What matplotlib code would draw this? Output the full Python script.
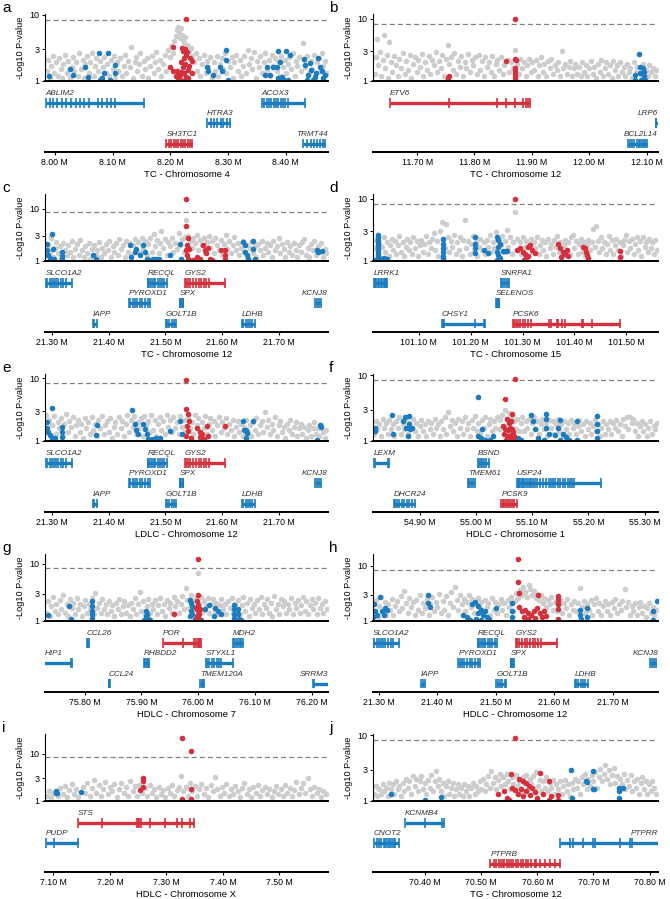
import numpy as np
import matplotlib
matplotlib.use("Agg")
import matplotlib.pyplot as plt
from matplotlib.ticker import NullLocator

plt.rcParams['font.family'] = ['Liberation Sans', 'DejaVu Sans']

GRAY = "#cdcdcd"
BLUE = "#1b7cc0"
RED = "#d5303b"
SIG = 8.4  # genome-wide line as drawn in the figure

# ---------------- panel a : TC chr4 ----------------
a_gray = [(7.986,1.4),(7.988,2.1),(7.991,1.1),(7.994,1.7),(7.997,2.4),(7.999,1.3),(8.002,1.9),(8.005,1.2),(8.007,2.2),(8.010,1.5),
          (8.013,1.1),(8.015,1.8),(8.018,2.5),(8.021,1.3),(8.023,2.0),(8.026,1.1),(8.029,1.6),(8.031,2.3),(8.034,1.4),(8.037,1.9),
          (8.040,1.2),(8.042,2.6),(8.045,1.5),(8.048,2.1),(8.050,1.1),(8.053,1.8),(8.056,2.4),(8.059,1.3),(8.061,1.9),(8.064,2.6),
          (8.067,1.2),(8.069,1.7),(8.072,2.2),(8.075,1.4),(8.078,2.0),(8.080,1.1),(8.083,1.6),(8.086,2.3),(8.089,1.3),(8.091,1.8),
          (8.094,1.2),(8.097,2.1),(8.100,1.5),(8.102,2.4),(8.105,1.1),(8.108,1.9),(8.110,1.4),(8.113,2.2),(8.116,1.2),(8.119,1.7),
          (8.121,2.5),(8.124,1.3),(8.127,2.0),(8.130,1.6),(8.132,3.3),(8.135,1.1),(8.138,1.9),(8.140,2.3),(8.143,1.4),(8.146,1.8),
          (8.148,2.6),(8.151,1.2),(8.154,2.0),(8.157,1.5),(8.160,2.2),(8.162,1.1),(8.165,1.7),(8.168,2.4),(8.171,1.3),(8.173,1.9),
          (8.176,2.7),(8.179,1.5),(8.182,2.1),(8.184,1.2),(8.187,1.8),(8.190,2.5),(8.193,1.4),(8.196,2.9),(8.199,2.3),(8.202,3.4),
          (8.205,2.6),(8.207,4.0),(8.210,4.8),(8.212,5.8),(8.213,6.6),(8.215,5.4),(8.217,4.5),(8.218,6.2),(8.220,5.0),(8.222,4.2),
          (8.224,3.7),(8.226,4.6),(8.229,3.5),(8.232,2.8),(8.235,3.1),(8.238,2.4),(8.241,1.9),(8.244,2.6),(8.247,1.4),(8.249,2.2),
          (8.252,1.2),(8.255,1.8),(8.258,2.5),(8.261,1.3),(8.263,2.0),(8.266,1.6),(8.269,2.3),(8.272,1.1),(8.275,1.9),(8.278,1.4),
          (8.280,2.4),(8.283,1.2),(8.286,1.8),(8.289,2.2),(8.292,1.5),(8.294,2.6),(8.297,1.3),(8.300,2.0),(8.303,1.6),(8.306,2.3),
          (8.308,1.1),(8.311,1.9),(8.314,2.5),(8.317,1.4),(8.320,2.1),(8.322,1.2),(8.325,1.7),(8.328,2.4),(8.331,1.3),(8.334,2.9),
          (8.336,1.8),(8.339,2.2),(8.342,1.5),(8.345,2.7),(8.348,1.1),(8.350,2.0),(8.353,1.6),(8.356,2.4),(8.359,1.3),(8.362,1.9),
          (8.364,2.6),(8.367,1.4),(8.370,2.1),(8.373,1.2),(8.376,2.5),(8.378,1.7),(8.381,2.2),(8.384,1.4),(8.387,2.0),(8.390,1.2),
          (8.392,2.4),(8.395,1.6),(8.398,2.1),(8.401,1.3),(8.404,1.8),(8.406,2.3),(8.409,1.5),(8.412,2.6),(8.415,1.2),(8.418,2.0),
          (8.420,1.7),(8.423,2.3),(8.426,1.4),(8.429,3.7),(8.432,2.1),(8.434,1.6),(8.437,2.4),(8.440,1.3),(8.443,2.0),(8.446,1.5),
          (8.448,2.5),(8.451,1.2),(8.454,1.9),(8.457,2.2),(8.460,1.4),(8.462,2.6),(8.465,1.7),(8.468,2.0),(8.471,1.3)]
a_blue = [(7.990,1.2),(8.026,1.5),(8.032,1.25),(8.058,1.15),(8.052,1.65),(8.077,2.6),(8.078,1.05),(8.085,1.3),(8.092,2.6),
          (8.095,1.05),(8.104,1.75),(8.104,1.3),(8.081,1.1),(8.264,1.65),(8.265,1.4),(8.274,1.25),(8.286,1.65),(8.289,1.4),
          (8.297,2.1),(8.297,2.9),(8.300,1.05),(8.364,1.25),(8.367,1.65),(8.373,1.25),(8.378,1.65),(8.384,1.65),(8.387,2.8),
          (8.390,1.95),(8.393,1.15),(8.397,1.05),(8.403,1.05),(8.401,2.8),(8.407,2.5),(8.386,1.1),(8.431,2.15),(8.433,1.75),
          (8.439,1.25),(8.441,1.85),(8.444,1.45),(8.450,1.15),(8.453,1.3),(8.456,2.2),(8.459,1.65),(8.462,1.4),(8.465,1.1),
          (8.468,1.25),(8.447,1.05),(8.436,1.05)]
a_red = [(8.227,8.6),(8.205,3.3),(8.221,3.1),(8.225,3.0),(8.228,2.5),(8.224,2.2),(8.219,1.9),(8.234,2.2),(8.237,2.0),
         (8.200,1.6),(8.205,1.4),(8.211,1.4),(8.216,1.25),(8.228,1.15),(8.231,1.1),(8.225,1.05),(8.216,1.05),(8.237,1.3),
         (8.222,1.6),(8.226,1.8),(8.230,1.45),(8.209,1.2),(8.219,1.35),(8.233,1.7),(8.224,1.3),(8.213,1.1),(8.229,2.7),(8.222,2.8)]
a_genes = [("ABLIM2", 7.984, 8.154, [7.991,7.997,8.004,8.012,8.020,8.028,8.036,8.043,8.050,8.059,8.075,8.081,8.091,8.097,8.104]),
           ("ACOX3", 8.358, 8.433, [8.363,8.367,8.371,8.375,8.379,8.383,8.387,8.391,8.395,8.399,8.404]),
           ("HTRA3", 8.263, 8.303, [8.270,8.275,8.281,8.287,8.292,8.298]),
           ("SH3TC1", 8.193, 8.237, [8.198,8.202,8.206,8.210,8.214,8.218,8.222,8.226,8.230,8.234]),
           ("TRMT44", 8.430, 8.468, [8.437,8.443,8.448,8.454,8.460,8.465])]
a_rows = [0, 0, 1, 2, 2]

# ---------------- panel b : TC chr12 ----------------
b_gray = [(11.626,1.3),(11.628,2.4),(11.630,4.7),(11.632,1.8),(11.635,2.9),(11.637,1.2),(11.640,2.2),(11.642,5.5),(11.644,1.6),
          (11.647,2.6),(11.649,1.1),(11.651,4.3),(11.654,2.0),(11.657,1.4),(11.660,2.5),(11.663,1.8),(11.666,1.2),(11.669,2.3),
          (11.672,1.6),(11.675,2.8),(11.678,1.3),(11.681,2.1),(11.684,1.5),(11.687,2.6),(11.690,1.1),(11.693,1.9),(11.696,2.4),
          (11.699,1.4),(11.702,2.2),(11.705,1.7),(11.708,2.7),(11.711,1.2),(11.714,2.0),(11.717,1.5),(11.720,2.5),(11.723,1.3),
          (11.726,2.2),(11.729,1.8),(11.732,2.9),(11.735,1.4),(11.738,2.1),(11.741,1.6),(11.744,2.6),(11.747,1.2),(11.750,2.3),
          (11.753,3.8),(11.756,1.9),(11.759,2.4),(11.762,1.5),(11.765,2.8),(11.768,1.3),(11.771,2.1),(11.774,1.7),(11.777,2.5),
          (11.780,1.2),(11.783,2.0),(11.786,1.6),(11.789,2.7),(11.792,1.4),(11.795,2.2),(11.798,1.8),(11.801,2.4),(11.804,1.3),
          (11.807,2.6),(11.810,1.5),(11.813,2.1),(11.816,1.2),(11.819,2.4),(11.822,1.7),(11.825,2.0),(11.828,1.4),(11.831,2.5),
          (11.834,1.2),(11.837,1.9),(11.840,2.2),(11.843,1.5),(11.846,2.4),(11.849,1.3),(11.852,1.8),(11.858,2.2),(11.861,1.4),
          (11.864,2.0),(11.867,1.6),(11.870,3.2),(11.874,1.9),(11.877,1.3),(11.880,2.3),(11.883,1.6),(11.886,2.0),(11.889,1.2),
          (11.892,1.8),(11.895,2.3),(11.898,1.4),(11.901,2.0),(11.904,1.5),(11.907,2.2),(11.910,1.2),(11.913,1.8),(11.916,2.4),
          (11.919,1.4),(11.922,1.9),(11.925,1.2),(11.928,2.1),(11.931,1.6),(11.934,2.3),(11.937,1.3),(11.940,1.8),(11.943,1.5),
          (11.946,2.0),(11.949,1.2),(11.952,3.0),(11.955,1.6),(11.958,1.9),(11.961,1.3),(11.964,1.7),(11.967,2.1),(11.970,1.2),
          (11.973,1.6),(11.976,1.9),(11.979,1.3),(11.982,1.7),(11.985,1.2),(11.988,2.0),(11.991,1.4),(11.994,1.8),(11.997,1.2),
          (12.000,1.6),(12.003,2.1),(12.006,1.3),(12.009,1.7),(12.012,1.1),(12.015,1.9),(12.018,1.4),(12.021,2.2),(12.024,1.2),
          (12.027,1.6),(12.030,2.0),(12.033,1.3),(12.036,1.8),(12.039,1.1),(12.042,2.1),(12.045,1.5),(12.048,1.8),(12.051,1.2),
          (12.054,2.0),(12.057,1.4),(12.060,1.7),(12.063,1.2),(12.066,1.9),(12.069,1.4),(12.072,1.6),(12.075,1.1),(12.078,2.0),
          (12.081,1.4),(12.084,1.7),(12.090,1.3),(12.093,1.9),(12.099,1.5),(12.102,1.2),(12.105,1.8),(12.108,1.4),(12.111,1.6),
          (12.114,1.2),(12.117,1.5)]
b_blue = [(12.087,2.7),(12.088,1.7),(12.080,1.25),(12.080,1.05),(12.093,1.6),(12.096,1.4),(12.095,1.2),(12.090,1.05),
          (12.097,1.05),(12.088,1.35)]
b_red = [(11.871,10.0),(11.855,2.1),(11.870,2.3),(11.872,2.2),(11.870,1.6),(11.871,1.45),(11.870,1.3),(11.871,1.15),
         (11.870,1.05),(11.754,1.1),(11.755,1.2),(11.754,1.05)]
b_genes = [("ETV6", 11.652, 11.897, [11.755,11.840,11.855,11.871,11.884,11.890,11.894]),
           ("LRP6", 12.116, 12.268, [12.117]),
           ("BCL2L14", 12.068, 12.100, [12.071,12.075,12.079,12.083,12.086,12.089,12.092,12.095,12.098])]
b_rows = [0, 1, 2]

# ---------------- chr12 21.3-21.8 Mb genes (panels c, e, h) ----------------
chr12_genes = [("SLCO1A2", 21.290, 21.335, [21.292,21.296,21.300,21.303,21.307,21.311,21.316,21.320,21.325]),
               ("RECQL", 21.469, 21.502, [21.470,21.473,21.476,21.479,21.482,21.486,21.490,21.494,21.498]),
               ("GYS2", 21.534, 21.605, [21.536,21.540,21.544,21.549,21.554,21.559,21.563,21.567,21.572,21.577]),
               ("PYROXD1", 21.436, 21.473, [21.438,21.442,21.446,21.450,21.455,21.459,21.464,21.469]),
               ("SPX", 21.525, 21.531, [21.526,21.528,21.530]),
               ("KCNJ8", 21.764, 21.774, [21.766,21.770]),
               ("IAPP", 21.372, 21.379, [21.375]),
               ("GOLT1B", 21.501, 21.518, [21.503,21.507,21.511,21.515]),
               ("LDHB", 21.635, 21.657, [21.637,21.641,21.645,21.649,21.653])]
chr12_rows = [0, 0, 0, 1, 1, 1, 2, 2, 2]

# ---------------- panel c : TC chr12 ----------------
c_gray = [(21.290,1.3),(21.293,2.0),(21.296,1.5),(21.299,2.7),(21.302,1.2),(21.305,1.8),(21.308,2.3),(21.311,1.4),(21.314,1.9),
          (21.317,1.1),(21.320,2.2),(21.323,1.6),(21.326,1.3),(21.329,2.0),(21.332,1.5),(21.335,2.4),(21.338,1.2),(21.341,1.7),
          (21.344,2.1),(21.347,1.3),(21.350,2.5),(21.353,1.6),(21.356,1.2),(21.359,1.9),(21.362,1.4),(21.365,2.2),(21.368,1.1),
          (21.371,1.7),(21.374,2.0),(21.377,1.3),(21.380,1.6),(21.383,2.3),(21.386,1.2),(21.389,1.8),(21.392,1.4),(21.395,2.1),
          (21.398,1.6),(21.401,2.4),(21.404,1.2),(21.407,1.9),(21.410,1.5),(21.413,2.2),(21.416,1.3),(21.419,2.6),(21.422,1.7),
          (21.425,2.0),(21.428,1.2),(21.431,2.4),(21.434,1.5),(21.437,2.2),(21.440,1.3),(21.443,2.0),(21.446,2.6),(21.449,1.6),
          (21.452,2.3),(21.455,1.4),(21.458,2.8),(21.461,1.7),(21.464,2.4),(21.467,1.3),(21.470,2.1),(21.473,2.7),(21.476,1.5),
          (21.479,3.2),(21.482,1.9),(21.485,2.5),(21.488,1.4),(21.491,2.2),(21.493,3.8),(21.496,1.8),(21.499,2.6),(21.502,1.3),
          (21.505,2.3),(21.508,1.9),(21.511,2.7),(21.514,1.5),(21.517,2.2),(21.520,1.7),(21.523,3.4),(21.526,2.0),(21.529,2.6),
          (21.532,1.5),(21.535,2.9),(21.537,6.0),(21.540,3.0),(21.543,2.4),(21.546,1.8),(21.549,2.7),(21.552,2.2),(21.555,3.1),
          (21.558,1.6),(21.561,2.5),(21.564,2.0),(21.567,2.8),(21.570,1.5),(21.573,2.3),(21.576,3.0),(21.579,1.8),(21.582,2.4),
          (21.585,1.4),(21.588,2.8),(21.591,2.0),(21.594,1.6),(21.597,2.5),(21.600,1.3),(21.603,2.1),(21.606,3.1),(21.609,1.7),
          (21.612,2.4),(21.615,1.4),(21.618,2.0),(21.621,2.9),(21.624,1.6),(21.627,2.2),(21.630,1.3),(21.633,1.8),(21.636,2.4),
          (21.639,1.5),(21.642,2.0),(21.645,1.2),(21.648,1.8),(21.651,2.3),(21.654,1.4),(21.657,1.9),(21.660,1.2),(21.663,2.1),
          (21.666,1.6),(21.669,2.4),(21.672,1.3),(21.675,1.8),(21.678,2.2),(21.681,1.5),(21.684,2.0),(21.687,1.2),(21.690,2.4),
          (21.693,1.6),(21.696,1.9),(21.699,2.8),(21.702,1.4),(21.705,2.1),(21.708,1.7),(21.711,1.2),(21.714,2.3),(21.717,1.5),
          (21.720,1.9),(21.723,1.3),(21.726,2.2),(21.729,1.6),(21.732,1.2),(21.735,2.0),(21.738,1.5),(21.741,2.3),(21.744,2.6),
          (21.747,1.3),(21.750,1.8),(21.753,1.2),(21.756,2.1),(21.759,1.6),(21.762,2.4),(21.765,1.3),(21.768,1.9),(21.771,1.5),
          (21.774,2.2),(21.777,1.2),(21.780,1.7),(21.783,1.4)]
c_blue = [(21.291,2.15),(21.300,3.2),(21.291,1.6),(21.294,1.3),(21.297,1.12),(21.302,1.7),(21.303,1.07),(21.318,1.5),
          (21.318,1.25),(21.318,1.07),(21.373,1.3),(21.378,1.07),(21.438,2.0),(21.439,1.2),(21.446,1.5),(21.449,1.7),
          (21.455,1.3),(21.461,2.0),(21.464,1.5),(21.467,1.1),(21.473,1.05),(21.478,1.07),(21.484,1.07),(21.489,1.07),
          (21.508,1.3),(21.525,2.15),(21.528,1.07),(21.637,2.3),(21.640,2.0),(21.640,1.5),(21.643,1.3),(21.646,1.07),
          (21.654,2.4),(21.654,1.7),(21.657,1.07),(21.766,1.6),(21.769,1.5),(21.775,1.55)]
c_red = [(21.537,15.2),(21.537,4.6),(21.540,2.7),(21.538,2.0),(21.541,1.7),(21.537,1.6),(21.538,1.3),(21.540,1.1),
         (21.548,1.05),(21.555,1.2),(21.561,1.07),(21.566,2.0),(21.569,1.6),(21.572,1.4),(21.575,1.75),(21.578,1.1),
         (21.581,1.05),(21.598,1.6),(21.605,1.6),(21.605,1.3),(21.605,1.07)]

# ---------------- panel d : TC chr15 ----------------
d_gray = [(101.015,1.6),(101.018,2.2),(101.021,1.3),(101.024,1.9),(101.027,1.1),(101.030,1.7),(101.033,2.4),(101.036,1.4),
          (101.039,2.0),(101.042,1.2),(101.045,1.8),(101.048,2.3),(101.051,1.5),(101.054,2.1),(101.057,1.3),(101.060,1.8),
          (101.063,2.5),(101.066,1.4),(101.069,2.0),(101.072,1.2),(101.075,1.7),(101.078,2.3),(101.081,1.5),(101.084,2.0),
          (101.087,1.3),(101.090,2.4),(101.093,1.6),(101.096,2.1),(101.099,1.2),(101.102,1.8),(101.105,2.2),(101.108,1.4),
          (101.111,1.9),(101.114,2.5),(101.117,1.3),(101.120,2.0),(101.123,1.6),(101.126,2.3),(101.129,2.8),(101.132,1.5),
          (101.135,2.1),(101.138,1.2),(101.141,3.0),(101.144,4.3),(101.147,2.2),(101.150,1.6),(101.153,4.0),(101.156,2.4),
          (101.159,1.4),(101.162,2.1),(101.165,1.7),(101.168,2.6),(101.171,1.3),(101.174,2.0),(101.177,1.5),(101.180,2.4),
          (101.183,1.2),(101.186,2.2),(101.189,4.6),(101.192,1.6),(101.195,2.1),(101.198,1.3),(101.201,1.9),(101.204,2.5),
          (101.207,1.4),(101.210,2.0),(101.213,1.2),(101.216,1.7),(101.219,2.3),(101.222,1.5),(101.225,2.0),(101.228,1.3),
          (101.231,2.2),(101.234,1.7),(101.237,2.6),(101.240,1.4),(101.243,2.0),(101.246,1.6),(101.249,2.9),(101.252,1.3),
          (101.255,2.2),(101.258,1.8),(101.261,2.5),(101.264,1.4),(101.267,2.1),(101.270,3.2),(101.273,1.7),(101.276,2.4),
          (101.279,1.3),(101.282,2.0),(101.286,6.1),(101.289,2.3),(101.292,1.5),(101.295,2.0),(101.298,1.3),(101.301,2.4),
          (101.304,1.7),(101.307,2.1),(101.310,1.2),(101.313,1.9),(101.316,2.3),(101.319,1.4),(101.322,2.0),(101.325,1.6),
          (101.328,2.4),(101.331,1.3),(101.334,1.8),(101.337,2.2),(101.340,1.5),(101.343,2.0),(101.346,1.2),(101.349,2.3),
          (101.352,1.6),(101.355,1.9),(101.358,1.3),(101.361,2.2),(101.364,1.7),(101.367,2.5),(101.370,1.4),(101.373,2.0),
          (101.376,1.2),(101.379,1.8),(101.382,2.2),(101.385,1.5),(101.388,2.0),(101.391,1.3),(101.394,2.4),(101.397,2.6),
          (101.400,1.6),(101.403,2.1),(101.406,1.3),(101.409,1.9),(101.412,2.3),(101.415,1.4),(101.418,2.0),(101.421,1.2),
          (101.424,1.8),(101.427,2.2),(101.430,1.5),(101.433,2.0),(101.436,3.3),(101.439,1.7),(101.442,3.6),(101.445,2.1),
          (101.448,1.4),(101.451,2.4),(101.454,1.6),(101.457,2.0),(101.460,1.3),(101.463,1.9),(101.466,2.5),(101.469,1.5),
          (101.472,2.2),(101.475,1.3),(101.478,1.8),(101.481,2.3),(101.484,1.5),(101.487,2.0),(101.490,1.2),(101.493,1.8),
          (101.496,2.2),(101.499,2.6),(101.502,1.4),(101.505,2.1),(101.508,1.6),(101.511,2.3),(101.514,1.3),(101.517,1.9),
          (101.520,2.4),(101.523,1.5),(101.526,2.1),(101.529,1.2),(101.532,2.4),(101.535,1.7),(101.538,2.0),(101.541,1.4),
          (101.544,2.3),(101.547,1.6),(101.550,2.0),(101.553,1.3),(101.556,2.2),(101.559,1.5)]
d_blue = [(101.021,2.6),(101.021,2.4),(101.022,2.2),(101.021,2.0),(101.022,1.8),(101.021,1.6),(101.022,1.45),(101.021,1.3),
          (101.022,1.2),(101.021,1.1),(101.022,1.05),(101.014,1.05),(101.027,1.07),(101.033,1.1),(101.039,1.07),
          (101.146,2.3),(101.146,1.9),(101.146,1.6),(101.146,1.4),(101.146,1.2),(101.146,1.1),(101.146,1.05),
          (101.209,2.4),(101.209,1.9),(101.209,1.6),(101.209,1.35),(101.226,1.5),(101.234,1.35),
          (101.250,2.45),(101.253,2.2),(101.256,1.9),(101.252,1.7),(101.250,1.4),(101.253,1.25),(101.256,1.12),
          (101.250,1.05),(101.262,1.45),(101.268,1.45),(101.271,1.45)]
d_red = [(101.286,10.0),(101.296,1.6),(101.290,1.5),(101.300,1.4),(101.305,1.3),(101.310,1.65),(101.315,1.8),(101.318,1.5),
         (101.310,1.2),(101.306,1.1),(101.302,1.05),(101.325,1.35),(101.369,1.9),(101.372,1.6),(101.378,1.4),(101.382,1.3),
         (101.385,1.5),(101.388,1.2),(101.375,1.15),(101.417,1.7),(101.420,1.6),(101.422,1.4),(101.425,1.25),(101.426,1.1),
         (101.487,1.45),(101.487,1.15)]
d_genes = [("LRRK1", 101.013, 101.039, [101.015,101.018,101.021,101.024,101.027,101.030,101.033,101.035,101.037]),
           ("SNRPA1", 101.258, 101.274, [101.260,101.264,101.268,101.272]),
           ("SELENOS", 101.249, 101.255, [101.250,101.252,101.254]),
           ("CHSY1", 101.144, 101.228, [101.146,101.148,101.209,101.225]),
           ("PCSK6", 101.282, 101.487, [101.284,101.288,101.292,101.296,101.300,101.305,101.310,101.316,101.351,101.354,
                                        101.366,101.369,101.376,101.382,101.414,101.417,101.433])]
d_rows = [0, 0, 1, 2, 2]

# ---------------- panel e : LDLC chr12 ----------------
e_gray = [(21.289,2.6),(21.292,1.4),(21.295,2.2),(21.298,1.2),(21.301,1.8),(21.304,2.5),(21.307,1.3),(21.310,2.0),(21.313,1.6),
          (21.316,2.3),(21.319,1.2),(21.322,1.9),(21.325,2.7),(21.328,1.4),(21.331,2.1),(21.334,1.7),(21.337,2.4),(21.340,1.2),
          (21.343,1.8),(21.346,2.2),(21.349,1.4),(21.352,1.9),(21.355,1.1),(21.358,2.3),(21.361,1.6),(21.364,2.0),(21.367,1.3),
          (21.370,2.4),(21.373,1.5),(21.376,1.9),(21.379,1.2),(21.382,2.2),(21.385,1.6),(21.388,2.5),(21.391,1.3),(21.394,1.8),
          (21.397,2.1),(21.400,1.4),(21.403,2.3),(21.406,1.1),(21.409,1.7),(21.412,2.0),(21.415,1.3),(21.418,2.4),(21.421,1.6),
          (21.424,2.1),(21.427,1.2),(21.430,1.9),(21.433,2.6),(21.436,1.4),(21.439,2.2),(21.442,1.7),(21.445,2.5),(21.448,1.3),
          (21.451,2.0),(21.454,1.6),(21.457,2.3),(21.460,1.2),(21.463,2.5),(21.466,1.8),(21.469,2.1),(21.472,1.4),(21.475,2.6),
          (21.478,1.5),(21.481,2.2),(21.484,1.2),(21.487,1.9),(21.490,2.4),(21.493,1.5),(21.496,2.1),(21.499,1.3),(21.502,2.6),
          (21.505,1.7),(21.508,2.2),(21.511,1.4),(21.514,2.4),(21.517,1.6),(21.520,2.0),(21.523,1.3),(21.526,2.5),(21.529,1.7),
          (21.532,2.2),(21.535,1.4),(21.540,2.4),(21.543,1.6),(21.546,2.0),(21.549,1.3),(21.552,2.6),(21.555,1.8),(21.558,2.3),
          (21.561,1.4),(21.564,2.0),(21.567,1.6),(21.570,2.5),(21.573,1.3),(21.576,1.9),(21.579,2.3),(21.582,1.5),(21.585,2.1),
          (21.588,1.2),(21.591,1.8),(21.594,2.4),(21.597,1.4),(21.600,2.0),(21.603,1.6),(21.606,2.3),(21.609,1.3),(21.612,1.9),
          (21.615,1.5),(21.618,2.2),(21.621,1.2),(21.624,1.7),(21.627,2.1),(21.630,1.4),(21.633,1.9),(21.636,1.2),(21.639,1.7),
          (21.642,2.2),(21.645,1.4),(21.648,1.8),(21.651,1.2),(21.654,2.0),(21.657,1.5),(21.660,2.3),(21.663,1.3),(21.666,1.8),
          (21.669,2.1),(21.672,1.4),(21.675,2.9),(21.678,1.7),(21.681,2.2),(21.684,1.3),(21.687,1.9),(21.690,1.5),(21.693,2.4),
          (21.696,1.2),(21.699,1.8),(21.702,2.1),(21.705,1.4),(21.708,1.7),(21.711,1.1),(21.714,1.9),(21.717,1.5),(21.720,2.2),
          (21.723,1.3),(21.726,1.7),(21.729,2.0),(21.732,1.2),(21.735,1.6),(21.738,1.9),(21.741,1.3),(21.744,1.7),(21.747,1.1),
          (21.750,1.5),(21.753,1.8),(21.756,1.2),(21.759,1.6),(21.762,2.0),(21.765,1.3),(21.768,1.6),(21.771,1.2),(21.774,1.8),
          (21.777,1.4),(21.780,1.1),(21.783,1.5)]
e_blue = [(21.300,3.4),(21.291,2.0),(21.291,1.6),(21.293,1.4),(21.296,1.25),(21.300,1.12),(21.305,1.1),(21.318,1.67),
          (21.318,1.4),(21.318,1.15),(21.377,1.25),(21.379,1.8),(21.441,3.1),(21.446,1.85),(21.449,1.5),(21.452,1.3),
          (21.461,1.85),(21.464,1.55),(21.467,1.3),(21.470,1.07),(21.476,1.07),(21.484,1.1),(21.490,1.12),(21.508,1.43),
          (21.526,2.1),(21.529,1.3),(21.636,2.1),(21.638,1.5),(21.641,1.5),(21.644,1.35),(21.642,1.1),(21.654,2.05),
          (21.766,1.05),(21.772,1.8),(21.773,1.7)]
e_red = [(21.537,9.3),(21.537,3.2),(21.540,2.7),(21.542,2.1),(21.538,1.75),(21.540,1.45),(21.537,1.2),(21.545,1.1),
         (21.556,1.6),(21.560,1.4),(21.565,1.3),(21.560,1.15),(21.573,1.75),(21.575,1.2),(21.568,1.07),(21.605,1.75)]

# ---------------- panel f : HDLC chr1 ----------------
f_gray = [(54.818,1.3),(54.821,2.0),(54.824,1.5),(54.827,1.8),(54.830,1.2),(54.833,2.2),(54.836,1.6),(54.839,1.9),(54.842,1.3),
          (54.845,2.1),(54.848,1.5),(54.851,1.8),(54.854,1.2),(54.857,2.0),(54.860,1.6),(54.863,2.3),(54.866,1.3),(54.869,1.8),
          (54.872,1.5),(54.875,2.1),(54.878,1.3),(54.881,1.9),(54.884,1.6),(54.887,2.2),(54.890,1.4),(54.893,1.9),(54.896,1.2),
          (54.899,1.7),(54.902,2.1),(54.905,1.4),(54.908,1.8),(54.911,1.2),(54.914,2.0),(54.917,1.5),(54.920,1.9),(54.923,1.3),
          (54.926,2.2),(54.929,1.6),(54.932,1.8),(54.935,1.2),(54.938,2.0),(54.941,1.5),(54.944,2.3),(54.947,1.3),(54.950,2.8),
          (54.953,1.7),(54.956,2.1),(54.959,1.4),(54.962,1.9),(54.965,1.2),(54.968,2.2),(54.971,1.6),(54.974,2.0),(54.977,1.3),
          (54.980,2.3),(54.983,1.5),(54.986,1.9),(54.989,1.2),(54.992,2.1),(54.995,1.6),(54.998,2.4),(55.001,1.4),(55.004,1.9),
          (55.007,1.3),(55.010,2.1),(55.013,1.6),(55.016,2.3),(55.019,1.2),(55.022,1.8),(55.025,2.2),(55.028,1.4),(55.031,2.0),
          (55.034,1.6),(55.037,2.3),(55.040,1.5),(55.043,2.1),(55.046,2.5),(55.049,1.7),(55.052,3.0),(55.055,2.2),(55.058,2.7),
          (55.061,1.8),(55.064,2.4),(55.067,2.0),(55.070,1.5),(55.073,2.2),(55.076,1.4),(55.079,1.9),(55.082,2.3),(55.085,1.4),
          (55.088,2.0),(55.091,1.6),(55.094,2.2),(55.097,1.3),(55.100,1.9),(55.103,2.3),(55.106,1.5),(55.109,2.0),(55.112,1.3),
          (55.115,1.8),(55.118,2.2),(55.121,1.5),(55.124,1.9),(55.127,1.2),(55.130,2.1),(55.133,1.6),(55.136,2.0),(55.139,1.3),
          (55.142,1.8),(55.145,2.2),(55.148,1.4),(55.151,1.8),(55.154,1.2),(55.157,2.0),(55.160,1.5),(55.163,1.9),(55.166,1.3),
          (55.169,2.1),(55.172,1.6),(55.175,1.9),(55.178,1.3),(55.181,1.7),(55.184,2.1),(55.187,1.4),(55.190,1.8),(55.193,1.2),
          (55.196,2.0),(55.199,1.5),(55.202,1.9),(55.205,1.3),(55.208,1.7),(55.211,2.1),(55.214,1.4),(55.217,1.8),(55.220,1.2),
          (55.223,1.6),(55.226,2.0),(55.229,1.3),(55.232,1.8),(55.235,1.5),(55.238,2.0),(55.241,1.3),(55.244,1.9),(55.247,1.6),
          (55.250,2.1),(55.253,1.4),(55.256,1.8),(55.259,1.2),(55.262,2.2),(55.265,1.7),(55.268,2.3),(55.271,1.5),(55.274,2.3),
          (55.277,1.9),(55.280,2.2),(55.283,1.4),(55.286,1.9),(55.289,1.2),(55.292,1.7),(55.295,2.0),(55.298,1.4),(55.301,1.8),
          (55.304,1.2),(55.307,1.6),(55.310,2.0),(55.313,1.3),(55.316,1.7),(55.319,1.5),(55.322,1.9)]
f_blue = [(54.820,1.6),(54.820,1.4),(54.850,2.5),(54.852,1.3),(54.870,2.0),(54.873,2.3),(54.875,1.6),(54.880,2.4),
          (54.880,1.8),(54.882,1.5),(54.878,1.2),(54.885,1.6),(55.004,4.7),(55.003,1.2),(55.008,1.1),(55.015,1.05),
          (55.010,1.5),(55.025,1.05),(55.030,1.2),(55.075,1.1),(55.080,1.05),(55.098,2.5),(55.102,2.0),(55.105,1.5),
          (55.110,1.1),(55.125,2.6),(55.125,2.2),(55.125,1.6),(55.130,1.3),(55.120,1.05),(55.140,1.25),(55.145,1.6),
          (55.150,2.1),(55.150,1.05),(55.155,1.3),(55.160,1.15),(55.165,1.05),(55.180,2.0),(55.180,1.05),(55.215,2.4),
          (55.215,1.8),(55.215,1.4),(55.215,1.1)]
f_red = [(55.069,8.8),(55.051,4.4),(55.063,2.6),(55.054,2.2),(55.058,1.9),(55.062,2.0),(55.048,1.7),(55.052,1.5),
         (55.057,1.45),(55.060,1.6),(55.065,1.35),(55.049,1.3),(55.055,1.2),(55.060,1.1),(55.065,1.05),(55.053,1.05),
         (55.068,1.2),(55.062,1.25),(55.057,1.15),(55.064,1.55)]
f_genes = [("LEXM", 54.817, 54.845, [54.820,54.842]),
           ("BSND", 55.003, 55.023, [55.005,55.008,55.011,55.014,55.018]),
           ("TMEM61", 54.985, 54.998, [54.987,54.991,54.995]),
           ("USP24", 55.072, 55.223, [55.074,55.076,55.078,55.081,55.083,55.086,55.089,55.092,55.095,55.098,55.101,55.104,
                                      55.108,55.113,55.119,55.124,55.129,55.133,55.137,55.141,55.145,55.149,55.154,55.158,
                                      55.163,55.167,55.171,55.175]),
           ("DHCR24", 54.853, 54.891, [54.855,54.859,54.863,54.868,54.872,54.877,54.881,54.886]),
           ("PCSK9", 55.045, 55.072, [55.047,55.050,55.053,55.056,55.059,55.062,55.065,55.068])]
f_rows = [0, 0, 1, 1, 2, 2]

# ---------------- panel g : HDLC chr7 ----------------
g_gray = [(75.732,1.4),(75.735,2.2),(75.738,1.2),(75.741,1.8),(75.744,2.6),(75.747,1.5),(75.750,2.0),(75.753,1.3),(75.756,2.3),
          (75.759,1.6),(75.762,2.8),(75.765,1.4),(75.768,2.0),(75.771,1.2),(75.774,2.4),(75.777,1.7),(75.780,2.1),(75.783,1.3),
          (75.786,2.5),(75.789,1.6),(75.792,2.0),(75.795,1.2),(75.798,1.8),(75.801,2.3),(75.804,1.4),(75.807,2.0),(75.810,1.6),
          (75.813,2.5),(75.816,1.3),(75.819,3.1),(75.822,1.7),(75.825,2.1),(75.828,1.4),(75.831,2.4),(75.834,1.6),(75.837,2.0),
          (75.840,1.3),(75.843,2.2),(75.846,1.5),(75.849,1.9),(75.852,1.2),(75.855,2.1),(75.858,1.6),(75.861,2.4),(75.864,1.3),
          (75.867,1.8),(75.870,2.2),(75.873,1.4),(75.876,1.9),(75.879,1.2),(75.882,2.1),(75.885,1.6),(75.888,2.5),(75.891,1.3),
          (75.894,2.0),(75.897,3.2),(75.900,1.5),(75.903,2.2),(75.906,1.3),(75.909,1.8),(75.912,2.4),(75.915,1.4),(75.918,2.0),
          (75.921,1.6),(75.924,2.3),(75.927,1.3),(75.930,1.9),(75.933,2.5),(75.936,1.5),(75.939,2.0),(75.942,1.2),(75.945,2.3),
          (75.948,1.7),(75.951,2.1),(75.954,1.4),(75.957,2.6),(75.960,1.8),(75.963,2.2),(75.966,1.4),(75.969,2.0),(75.972,2.7),
          (75.975,1.6),(75.978,3.8),(75.981,2.3),(75.984,1.7),(75.987,2.9),(75.990,2.2),(75.993,1.6),(75.996,2.5),(75.999,7.0),
          (76.002,2.0),(76.005,2.6),(76.008,1.5),(76.011,2.2),(76.014,1.8),(76.017,2.5),(76.020,1.4),(76.023,2.0),(76.026,2.4),
          (76.029,1.5),(76.032,2.1),(76.035,1.3),(76.038,1.9),(76.041,2.4),(76.044,1.6),(76.047,2.0),(76.050,1.3),(76.053,2.2),
          (76.056,1.7),(76.059,2.5),(76.062,1.4),(76.065,2.0),(76.068,1.6),(76.071,2.3),(76.074,1.3),(76.077,1.9),(76.080,2.6),
          (76.083,1.5),(76.086,2.1),(76.089,1.2),(76.092,2.4),(76.095,1.7),(76.098,2.0),(76.101,1.4),(76.104,2.3),(76.107,1.6),
          (76.110,2.6),(76.113,1.3),(76.116,2.0),(76.119,1.7),(76.122,2.4),(76.125,1.4),(76.128,2.1),(76.131,1.2),(76.134,2.7),
          (76.137,1.6),(76.140,2.0),(76.143,1.3),(76.146,2.4),(76.149,1.8),(76.152,2.2),(76.155,1.4),(76.158,2.0),(76.161,1.6),
          (76.164,2.5),(76.167,1.3),(76.170,2.1),(76.173,1.7),(76.176,2.3),(76.179,1.4),(76.182,1.9),(76.185,2.6),(76.188,1.5),
          (76.191,2.2),(76.194,1.3),(76.197,1.9),(76.200,2.4),(76.203,1.6),(76.206,2.1),(76.209,1.3),(76.212,2.5),(76.215,1.7),
          (76.218,2.0),(76.221,1.4),(76.224,2.2),(76.227,1.6)]
g_blue = [(75.736,1.25),(75.773,1.8),(75.775,1.1),(75.813,2.2),(75.813,1.8),(75.813,1.5),(75.813,1.3),(75.813,1.15),
          (75.908,1.5),(75.910,1.3),(75.908,1.2),(75.912,1.1),(75.905,1.05),(75.915,1.05),(75.985,2.3),(75.987,2.1),
          (75.990,1.8),(75.988,1.5),(75.990,1.3),(75.985,1.2),(75.995,1.1),(76.005,1.05),(76.012,1.6),(76.020,1.9),
          (76.030,1.7),(76.035,1.5),(76.040,1.3),(76.028,1.2),(76.063,1.9),(76.063,1.6),(76.063,1.35),(76.063,1.15),
          (76.070,1.6),(76.070,1.3),(76.072,1.1),(76.075,1.05)]
g_red = [(76.000,12.2),(76.000,2.8),(75.998,2.2),(76.000,1.9),(75.997,1.7),(75.999,1.5),(76.001,1.35),(75.998,1.2),
         (76.002,1.1),(75.997,1.05),(76.003,1.6),(75.958,1.3)]
g_genes = [("CCL26", 75.804, 75.807, [75.805]),
           ("POR", 75.938, 76.005, [75.974,75.992,75.996,75.999,76.001,76.003]),
           ("MDH2", 76.061, 76.080, [76.063,76.066,76.070,76.073,76.076]),
           ("HIP1", 75.700, 75.777, [75.776]),
           ("RHBDD2", 75.904, 75.914, [75.906,75.909,75.912]),
           ("STYXL1", 76.014, 76.061, [76.016,76.020,76.024,76.028,76.033,76.037,76.041]),
           ("CCL24", 75.842, 75.844, [75.843]),
           ("TMEM120A", 76.004, 76.011, [76.006,76.009]),
           ("SRRM3", 76.203, 76.300, [76.205])]
g_rows = [0, 0, 0, 1, 1, 1, 2, 2, 2]

# ---------------- panel h : HDLC chr12 ----------------
h_gray = [(21.292,1.5),(21.295,2.4),(21.298,1.2),(21.301,1.9),(21.304,2.7),(21.307,1.4),(21.310,2.2),(21.313,1.3),(21.316,2.0),
          (21.319,1.6),(21.322,2.5),(21.325,1.3),(21.328,1.9),(21.331,2.3),(21.334,1.5),(21.337,2.8),(21.340,1.7),(21.343,3.5),
          (21.346,2.1),(21.349,1.4),(21.352,2.6),(21.355,1.8),(21.358,2.2),(21.361,1.3),(21.364,2.4),(21.367,1.6),(21.370,3.0),
          (21.373,1.4),(21.376,2.1),(21.379,1.7),(21.382,2.5),(21.385,1.3),(21.388,2.0),(21.391,2.7),(21.394,1.5),(21.397,2.2),
          (21.400,1.8),(21.403,3.1),(21.406,1.4),(21.409,2.3),(21.412,1.6),(21.415,2.8),(21.418,1.3),(21.421,2.1),(21.424,3.3),
          (21.427,1.8),(21.430,4.2),(21.433,2.4),(21.436,1.6),(21.439,2.9),(21.442,2.0),(21.445,2.5),(21.448,1.5),(21.451,2.2),
          (21.454,3.0),(21.457,1.8),(21.460,2.5),(21.463,1.4),(21.466,2.0),(21.469,2.6),(21.472,1.7),(21.475,2.2),(21.478,1.4),
          (21.481,2.4),(21.484,1.8),(21.487,2.1),(21.490,1.3),(21.493,2.6),(21.496,1.6),(21.499,2.2),(21.502,1.4),(21.505,2.0),
          (21.508,2.5),(21.511,1.6),(21.514,2.1),(21.517,1.3),(21.520,2.4),(21.523,1.8),(21.526,2.7),(21.529,1.5),(21.532,2.3),
          (21.535,3.2),(21.538,2.6),(21.541,3.6),(21.544,2.9),(21.547,4.1),(21.550,3.3),(21.553,2.7),(21.556,4.5),(21.559,3.8),
          (21.562,3.0),(21.565,3.5),(21.568,2.6),(21.571,3.1),(21.574,2.4),(21.577,2.9),(21.580,2.1),(21.583,2.6),(21.586,1.8),
          (21.589,2.4),(21.592,2.0),(21.595,2.7),(21.598,1.6),(21.601,2.2),(21.604,1.5),(21.607,2.0),(21.610,2.4),(21.613,1.4),
          (21.616,2.1),(21.619,1.7),(21.622,2.5),(21.625,1.3),(21.628,2.0),(21.631,1.6),(21.634,2.3),(21.637,1.5),(21.640,2.1),
          (21.644,4.0),(21.647,1.8),(21.650,2.3),(21.653,1.4),(21.656,2.0),(21.659,1.6),(21.662,2.4),(21.665,1.3),(21.668,2.0),
          (21.671,2.6),(21.674,1.5),(21.677,2.1),(21.680,1.3),(21.683,1.9),(21.686,2.3),(21.689,1.5),(21.692,2.0),(21.695,1.3),
          (21.698,2.2),(21.701,1.7),(21.704,2.5),(21.707,1.4),(21.710,2.0),(21.713,1.6),(21.716,2.3),(21.720,3.8),(21.723,1.8),
          (21.726,2.2),(21.729,1.3),(21.732,1.9),(21.735,1.5),(21.738,2.1),(21.741,1.3),(21.744,1.8),(21.747,2.2),(21.750,1.4),
          (21.753,1.9),(21.756,1.2),(21.759,1.7),(21.762,2.1),(21.765,1.4),(21.768,1.8),(21.771,1.3),(21.774,1.6)]
h_blue = [(21.291,2.0),(21.294,1.5),(21.297,1.3),(21.302,2.7),(21.305,1.5),(21.308,1.3),(21.311,1.7),(21.314,1.6),
          (21.290,1.2),(21.384,2.9),(21.384,2.1),(21.387,1.8),(21.444,1.3),(21.450,1.2),(21.460,2.0),(21.465,2.2),
          (21.470,1.9),(21.475,1.6),(21.470,1.4),(21.478,1.3),(21.482,1.5),(21.485,1.2),(21.488,1.1),(21.466,1.1),
          (21.474,1.05),(21.455,1.05),(21.500,1.7),(21.528,2.1),(21.528,1.5),(21.527,1.2),(21.644,1.6),(21.644,1.3),
          (21.646,1.1),(21.656,1.7),(21.656,1.2),(21.768,1.5),(21.768,1.05),(21.775,2.3)]
h_red = [(21.537,13.4),(21.537,5.1),(21.540,3.2),(21.572,3.0),(21.606,2.8),(21.606,2.5),(21.606,2.25),(21.606,2.0),
         (21.606,1.65),(21.606,1.1),(21.540,1.8),(21.545,1.5),(21.550,1.6),(21.555,1.4),(21.548,1.2),(21.560,1.3),
         (21.565,1.5),(21.570,1.7),(21.575,1.4),(21.578,1.2),(21.582,1.5),(21.585,1.25),(21.555,1.1),(21.567,1.15)]

# ---------------- panel i : HDLC chrX ----------------
i_gray = [(7.088,1.3),(7.092,1.6),(7.096,1.2),(7.100,1.5),(7.108,1.3),(7.112,1.9),(7.116,1.4),(7.120,2.1),(7.124,1.2),
          (7.128,1.7),(7.132,2.3),(7.136,1.4),(7.140,1.8),(7.144,1.2),(7.152,2.0),(7.156,1.5),(7.160,2.4),(7.164,1.3),
          (7.168,1.9),(7.172,2.8),(7.176,1.5),(7.180,2.2),(7.184,1.3),(7.188,1.8),(7.192,2.5),(7.196,1.4),(7.200,2.0),
          (7.204,1.6),(7.208,2.3),(7.212,1.2),(7.216,1.8),(7.220,2.4),(7.224,1.5),(7.228,2.0),(7.232,1.3),(7.236,2.6),
          (7.240,1.6),(7.244,2.1),(7.248,1.3),(7.252,2.2),(7.256,1.5),(7.262,1.9),(7.266,1.3),(7.270,2.2),(7.274,1.5),
          (7.278,1.8),(7.282,1.2),(7.286,2.0),(7.290,1.4),(7.294,1.7),(7.298,1.2),(7.302,1.9),(7.306,1.5),(7.310,2.2),
          (7.314,1.3),(7.318,1.7),(7.322,2.0),(7.326,3.3),(7.330,1.6),(7.334,2.0),(7.338,1.3),(7.342,2.4),(7.346,1.6),
          (7.350,2.1),(7.354,1.3),(7.358,1.8),(7.362,2.3),(7.366,1.4),(7.370,1.9),(7.374,1.2),(7.378,2.2),(7.382,1.6),
          (7.386,3.2),(7.390,1.8),(7.394,1.3),(7.398,2.0),(7.402,1.5),(7.406,2.3),(7.410,1.3),(7.414,1.8),(7.418,1.4),
          (7.422,2.1),(7.426,1.6),(7.430,1.2),(7.434,1.9),(7.438,2.4),(7.442,1.4),(7.446,1.8),(7.450,1.2),(7.454,2.0),
          (7.458,1.5),(7.462,2.2),(7.466,1.3),(7.470,1.7),(7.474,2.0),(7.478,1.4),(7.482,1.8),(7.486,1.2),(7.490,1.6),
          (7.494,2.1),(7.498,1.4),(7.502,1.8),(7.506,1.3),(7.510,2.2),(7.514,1.5),(7.518,1.9),(7.522,1.3),(7.526,1.7),
          (7.530,2.5),(7.534,1.4),(7.538,1.9),(7.542,2.4),(7.546,1.5),(7.550,3.1),(7.554,1.8),(7.558,1.3),(7.562,2.0),
          (7.566,1.5),(7.570,1.8),(7.574,1.2),(7.578,1.6),(7.582,1.4)]
i_blue = [(7.105,1.6),(7.105,1.5),(7.106,1.45),(7.104,1.55),(7.148,1.55)]
i_red = [(7.327,21.7),(7.343,11.2),(7.258,3.0),(7.258,2.6),(7.258,2.0),(7.253,1.7),(7.343,1.75),(7.327,1.1),(7.343,1.08)]
i_genes = [("STS", 7.143, 7.348, [7.186,7.247,7.250,7.252,7.255,7.270,7.298,7.318,7.327,7.342]),
           ("PUDP", 7.086, 7.143, [7.101])]
i_rows = [0, 1]

# ---------------- panel j : TG chr12 ----------------
j_gray = [(70.309,1.3),(70.312,1.7),(70.315,1.2),(70.318,1.5),(70.321,1.3),(70.324,1.8),(70.327,1.4),(70.330,1.6),(70.333,1.2),
          (70.336,1.9),(70.339,1.5),(70.342,1.8),(70.345,1.3),(70.348,2.0),(70.351,1.5),(70.354,1.7),(70.357,1.2),(70.360,1.9),
          (70.363,1.4),(70.366,2.2),(70.369,1.6),(70.372,2.0),(70.375,1.3),(70.378,2.4),(70.381,1.7),(70.384,2.2),(70.387,1.4),
          (70.390,2.0),(70.393,2.4),(70.396,1.5),(70.399,1.9),(70.402,1.3),(70.405,2.1),(70.408,1.6),(70.411,2.5),(70.414,1.4),
          (70.417,2.0),(70.419,2.9),(70.422,1.7),(70.425,2.2),(70.428,1.4),(70.431,1.9),(70.434,1.2),(70.437,1.7),(70.440,2.0),
          (70.443,1.3),(70.446,1.6),(70.449,1.9),(70.452,1.2),(70.455,1.5),(70.458,1.8),(70.461,1.3),(70.464,1.6),(70.467,1.2),
          (70.470,1.8),(70.473,1.4),(70.476,1.7),(70.479,1.2),(70.482,1.6),(70.485,1.9),(70.488,1.3),(70.491,1.7),(70.494,1.4),
          (70.497,2.0),(70.500,1.5),(70.503,2.2),(70.506,1.4),(70.509,1.8),(70.512,2.4),(70.515,1.6),(70.518,2.9),(70.521,1.9),
          (70.524,2.3),(70.527,1.5),(70.530,2.1),(70.533,2.6),(70.536,1.7),(70.539,2.3),(70.542,1.8),(70.545,2.6),(70.548,2.0),
          (70.551,1.5),(70.554,2.3),(70.557,1.8),(70.562,2.5),(70.565,1.7),(70.568,2.0),(70.571,1.4),(70.574,2.3),(70.577,1.9),
          (70.580,2.5),(70.583,1.5),(70.586,2.2),(70.589,1.8),(70.592,2.4),(70.595,1.5),(70.598,2.8),(70.601,1.7),(70.604,2.1),
          (70.607,1.4),(70.610,2.0),(70.613,1.6),(70.616,2.3),(70.619,1.4),(70.622,1.9),(70.625,1.6),(70.628,2.1),(70.631,1.3),
          (70.634,1.8),(70.637,1.5),(70.640,2.0),(70.643,1.3),(70.646,1.7),(70.649,2.1),(70.652,1.4),(70.655,1.8),(70.658,1.2),
          (70.661,1.9),(70.664,1.5),(70.667,2.2),(70.670,1.6),(70.673,2.0),(70.676,1.3),(70.679,2.3),(70.682,1.8),(70.685,2.6),
          (70.688,1.5),(70.691,2.2),(70.694,1.7),(70.697,2.5),(70.700,2.0),(70.703,2.8),(70.706,1.6),(70.709,2.3),(70.712,3.1),
          (70.715,2.0),(70.718,2.6),(70.721,3.6),(70.724,2.2),(70.727,3.0),(70.730,1.8),(70.733,2.5),(70.736,3.2),(70.739,1.9),
          (70.742,2.4),(70.745,1.6),(70.748,2.2),(70.751,1.8),(70.754,2.6),(70.757,1.5),(70.760,2.1),(70.763,1.7),(70.766,2.5),
          (70.769,1.4),(70.772,2.0),(70.775,1.6),(70.778,2.2),(70.781,1.3),(70.784,1.9),(70.787,2.3),(70.790,1.5),(70.793,2.0),
          (70.796,1.3),(70.799,1.8),(70.802,1.4),(70.805,2.0),(70.808,1.6),(70.811,1.3)]
j_blue = [(70.339,1.3),(70.399,1.05),(70.429,1.15),(70.660,3.0),(70.661,1.1),(70.687,2.0),(70.688,1.95),(70.700,2.9),
          (70.700,1.55),(70.701,1.5),(70.746,1.6),(70.746,1.4),(70.746,1.1),(70.752,1.6)]
j_red = [(70.560,9.0),(70.553,2.6),(70.568,2.2),(70.575,2.0),(70.580,1.85),(70.585,1.7),(70.590,1.6),(70.605,2.7),
         (70.620,2.0),(70.555,1.6),(70.560,1.45),(70.565,1.3),(70.570,1.5),(70.575,1.2),(70.580,1.4),(70.587,1.25),
         (70.595,1.35),(70.600,1.1),(70.610,1.3),(70.625,1.2),(70.637,1.25),(70.540,1.4),(70.530,1.3),(70.545,1.1),
         (70.550,1.05),(70.620,1.05),(70.637,1.05)]
j_genes = [("KCNMB4", 70.364, 70.434, [70.399,70.430]),
           ("CNOT2", 70.308, 70.353, [70.314,70.318,70.322,70.326,70.329,70.332,70.335,70.338,70.341,70.344,70.347]),
           ("PTPRR", 70.640, 70.950, [70.659,70.663,70.682,70.700,70.703,70.747,70.765,70.768]),
           ("PTPRB", 70.516, 70.640, [70.523,70.527,70.532,70.535,70.538,70.541,70.545,70.549,70.553,70.557,70.562,70.566,
                                      70.571,70.575,70.580,70.584,70.589,70.595,70.598,70.605,70.613,70.622,70.631])]
j_rows = [0, 1, 1, 2]

panels = [
    dict(tag="a", gray=a_gray, blue=a_blue, red=a_red, genes=a_genes, rows=a_rows, lead="SH3TC1",
         xlim=(7.983, 8.473), ticks=[8.0, 8.1, 8.2, 8.3, 8.4], ymax=10.2, xlabel="TC - Chromosome 4"),
    dict(tag="b", gray=b_gray, blue=b_blue, red=b_red, genes=b_genes, rows=b_rows, lead="ETV6",
         xlim=(11.623, 12.120), ticks=[11.7, 11.8, 11.9, 12.0, 12.1], ymax=12.0, xlabel="TC - Chromosome 12"),
    dict(tag="c", gray=c_gray, blue=c_blue, red=c_red, genes=chr12_genes, rows=chr12_rows, lead="GYS2",
         xlim=(21.288, 21.786), ticks=[21.3, 21.4, 21.5, 21.6, 21.7], ymax=18.9, xlabel="TC - Chromosome 12"),
    dict(tag="d", gray=d_gray, blue=d_blue, red=d_red, genes=d_genes, rows=d_rows, lead="PCSK6",
         xlim=(101.012, 101.561), ticks=[101.1, 101.2, 101.3, 101.4, 101.5], ymax=12.0, xlabel="TC - Chromosome 15"),
    dict(tag="e", gray=e_gray, blue=e_blue, red=e_red, genes=chr12_genes, rows=chr12_rows, lead="GYS2",
         xlim=(21.288, 21.786), ticks=[21.3, 21.4, 21.5, 21.6, 21.7], ymax=11.7, xlabel="LDLC - Chromosome 12"),
    dict(tag="f", gray=f_gray, blue=f_blue, red=f_red, genes=f_genes, rows=f_rows, lead="PCSK9",
         xlim=(54.816, 55.324), ticks=[54.9, 55.0, 55.1, 55.2, 55.3], ymax=10.5, xlabel="HDLC - Chromosome 1"),
    dict(tag="g", gray=g_gray, blue=g_blue, red=g_red, genes=g_genes, rows=g_rows, lead="POR",
         xlim=(75.730, 76.229), ticks=[75.8, 75.9, 76.0, 76.1, 76.2], ymax=14.9, xlabel="HDLC - Chromosome 7"),
    dict(tag="h", gray=h_gray, blue=h_blue, red=h_red, genes=chr12_genes, rows=chr12_rows, lead="GYS2",
         xlim=(21.290, 21.777), ticks=[21.3, 21.4, 21.5, 21.6, 21.7], ymax=16.4, xlabel="HDLC - Chromosome 12"),
    dict(tag="i", gray=i_gray, blue=i_blue, red=i_red, genes=i_genes, rows=i_rows, lead="STS",
         xlim=(7.085, 7.586), ticks=[7.1, 7.2, 7.3, 7.4, 7.5], ymax=26.0, xlabel="HDLC - Chromosome X"),
    dict(tag="j", gray=j_gray, blue=j_blue, red=j_red, genes=j_genes, rows=j_rows, lead="PTPRB",
         xlim=(70.307, 70.815), ticks=[70.4, 70.5, 70.6, 70.7, 70.8], ymax=10.5, xlabel="TG - Chromosome 12"),
]

W, H = 670, 899
fig = plt.figure(figsize=(W / 100, H / 100), dpi=100)


def px_axes(x0, y0, x1, y1):
    return fig.add_axes([x0 / W, 1 - y1 / H, (x1 - x0) / W, (y1 - y0) / H])


def draw_scatter(ax, p):
    for pts, col in ((p["gray"], GRAY), (p["blue"], BLUE), (p["red"], RED)):
        arr = np.array(pts)
        ax.scatter(arr[:, 0], arr[:, 1], s=16, color=col, linewidths=0, zorder=2)
    ax.axhline(SIG, color="#808080", lw=0.9, dashes=(4, 2.5), zorder=1)
    ax.set_yscale("log")
    ax.set_ylim(1, p["ymax"])
    ax.set_xlim(*p["xlim"])
    ax.set_yticks([1, 3, 10])
    ax.set_yticklabels(["1", "3", "10"])
    ax.yaxis.set_minor_locator(NullLocator())
    ax.set_xticks([])
    for s in ("top", "right"):
        ax.spines[s].set_visible(False)
    ax.spines["left"].set_linewidth(0.8)
    ax.spines["bottom"].set_linewidth(1.4)
    ax.tick_params(axis="y", length=2.5, width=0.7, pad=1.5, labelsize=6.5)
    ax.set_ylabel("-Log10 P-value", fontsize=6.6, labelpad=3)


def draw_genes(ax, p):
    x0, x1 = p["xlim"]
    span = x1 - x0
    for (name, start, end, exons), r in zip(p["genes"], p["rows"]):
        col = RED if name == p["lead"] else BLUE
        y = -r
        ax.plot([start, end], [y, y], color=col, lw=2.4, solid_capstyle="butt")
        marks = list(exons) + [start, end]
        ax.vlines(marks, y - 0.24, y + 0.24, color=col, lw=1.2)
        if end > x1 or start - x0 > 0.88 * span:
            lx, ha = x1, "right"
        else:
            lx, ha = max(start, x0), "left"
        ax.text(lx, y + 0.29, name, fontsize=5.9, style="italic", ha=ha, va="bottom", color="#333333")
    ax.set_xlim(x0, x1)
    ax.set_ylim(-2.4, 0.84)
    ax.set_yticks([])
    ax.set_xticks(p["ticks"])
    ax.set_xticklabels([f"{t:.2f} M" for t in p["ticks"]])
    for s in ("top", "right", "left"):
        ax.spines[s].set_visible(False)
    ax.spines["bottom"].set_linewidth(1.4)
    ax.tick_params(axis="x", length=2.5, width=0.8, pad=2, labelsize=6.3)
    ax.set_xlabel(p["xlabel"], fontsize=6.8, labelpad=2)


for k, p in enumerate(panels):
    col, row = k % 2, k // 2
    left, right = (45, 328) if col == 0 else (373, 658)
    top = 180 * row
    ax_s = px_axes(left, top + 14, right, top + 81)
    ax_g = px_axes(left, top + 86, right, top + 151.7)
    draw_scatter(ax_s, p)
    draw_genes(ax_g, p)
    fig.text((2 if col == 0 else 329) / W, 1 - (top + 1) / H, p["tag"], fontsize=11, ha="left", va="top")

fig.savefig("out.png", dpi=100)
